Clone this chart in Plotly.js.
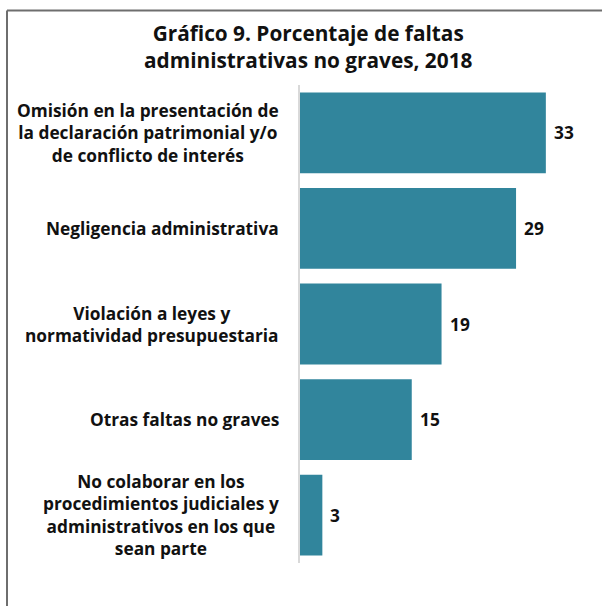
<!DOCTYPE html>
<html>
<head>
<meta charset="utf-8">
<script src="https://cdn.plot.ly/plotly-3.0.1.min.js"></script>
<style>
  html, body { margin: 0; padding: 0; background: #ffffff; }
  #chart { width: 602px; height: 606px; }
</style>
</head>
<body>
<div id="chart"></div>
<script>
// ---- Data ----
const categories = [
  "Omisión en la presentación de<br>la declaración patrimonial y/o<br>de conflicto de interés",
  "Negligencia administrativa",
  "Violación a leyes y<br>normatividad presupuestaria",
  "Otras faltas no graves",
  "No colaborar en los<br>procedimientos judiciales y<br>administrativos en los que<br>sean parte"
];
const values = [33, 29, 19, 15, 3];
const chartTitle = "Gráfico 9. Porcentaje de faltas<br>administrativas no graves, 2018";

// ---- Styling ----
const FONT = "'Open Sans', Roboto, sans-serif";
const BAR_COLOR = "#31859C";
const TEXT_COLOR = "#111111";
const W = 602, H = 606;
const M = { l: 300, r: 20, t: 85, b: 43 };
const plotW = W - M.l - M.r;
const plotH = H - M.t - M.b;

const trace = {
  type: "bar",
  orientation: "h",
  y: categories,
  x: values,
  marker: { color: BAR_COLOR, line: { width: 0 } },
  hoverinfo: "skip"
};

const px2x = p => (p - M.l) / plotW;
const py2y = p => (H - M.b - p) / plotH;

const annotations = [];
annotations.push({
  xref: "paper", yref: "paper",
  x: px2x(308), y: py2y(47),
  xanchor: "center", yanchor: "middle",
  align: "center", showarrow: false,
  text: "<b>" + chartTitle + "</b>",
  font: { family: FONT, size: 20.8, color: TEXT_COLOR }
});
categories.forEach((c, i) => {
  annotations.push({
    xref: "paper", yref: "y",
    x: 0, y: c,
    xanchor: "right", yanchor: "middle",
    xshift: -19,
    align: "center",
    showarrow: false,
    text: "<b>" + c + "</b>",
    font: { family: FONT, size: 17.3, color: TEXT_COLOR }
  });
  annotations.push({
    xref: "x", yref: "y",
    x: values[i], y: c,
    xanchor: "left", yanchor: "middle",
    xshift: 6,
    showarrow: false,
    text: "<b>" + values[i] + "</b>",
    font: { family: FONT, size: 17.3, color: TEXT_COLOR }
  });
});

// frame lines (top and left)
const shapes = [
  { type: "line", xref: "paper", yref: "paper",
    x0: px2x(7), x1: px2x(W + 5), y0: py2y(10.5), y1: py2y(10.5),
    line: { color: "#6e6e6e", width: 2 } },
  { type: "line", xref: "paper", yref: "paper",
    x0: px2x(7), x1: px2x(7), y0: py2y(10.5), y1: py2y(H + 5),
    line: { color: "#6e6e6e", width: 2 } }
];

const layout = {
  width: W, height: H,
  margin: M,
  paper_bgcolor: "#ffffff",
  plot_bgcolor: "#ffffff",
  showlegend: false,
  bargap: 0.155,
  xaxis: {
    range: [0, plotW / 7.45],
    showgrid: false, zeroline: false, showline: false,
    showticklabels: false, ticks: "", fixedrange: true
  },
  yaxis: {
    autorange: "reversed",
    showgrid: false, zeroline: false,
    showline: true, linecolor: "#d9d9d9", linewidth: 2,
    showticklabels: false, ticks: "", fixedrange: true
  },
  annotations: annotations,
  shapes: shapes
};

Plotly.newPlot("chart", [trace], layout, { displayModeBar: false, staticPlot: true });
</script>
</body>
</html>
